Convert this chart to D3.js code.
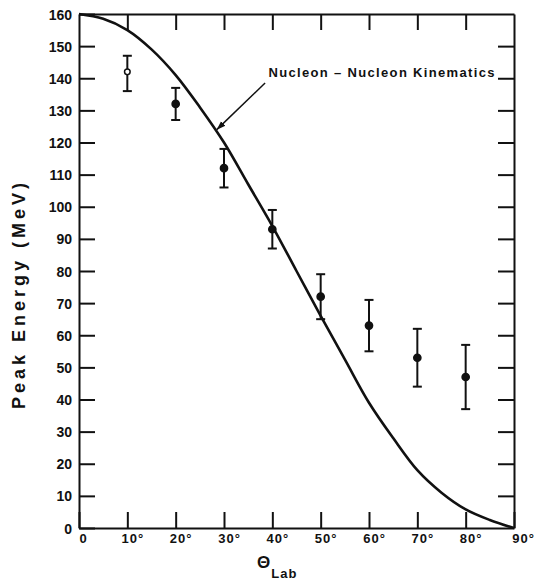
<!DOCTYPE html>
<html>
<head>
<meta charset="utf-8">
<script src="https://cdn.jsdelivr.net/npm/d3@7"></script>
<style>
  body { margin: 0; background: #fff; }
  svg { display: block; }
  .tick text, .lbl { font-family: "Liberation Sans", Arial, sans-serif; font-weight: bold; fill: #111; }
</style>
</head>
<body>
<div id="chart"></div>
<script>
// peak energy vs lab angle, with the nucleon-nucleon kinematics curve

var svgWidth = 534;
var svgHeight = 581;

var margin = { top: 14, right: 20, bottom: 53, left: 79 };
var width = svgWidth - margin.left - margin.right;
var height = svgHeight - margin.top - margin.bottom;

// measured points (deg, MeV) and error limits
var angles = [10, 20, 30, 40, 50, 60, 70, 80];
var energies = [142, 132, 112, 93, 72, 63, 53, 47];
var errLow = [136, 127, 106, 87, 65, 55, 44, 37];
var errHigh = [147, 137, 118, 99, 79, 71, 62, 57];

// kinematics curve read every 5 degrees
var curveAngles = [0, 5, 10, 15, 20, 25, 30, 35, 40, 45, 50, 55, 60, 65, 70, 75, 80, 85, 90];
var curveEnergies = [160, 158.5, 155, 149, 141, 131, 120, 107, 94, 80, 66, 52.5, 39, 28, 18, 11, 5.8, 2.5, 0];

var xTicks = [0, 10, 20, 30, 40, 50, 60, 70, 80, 90];
var yTicks = d3.range(0, 161, 10);

var svg = d3.select("#chart")
    .append("svg")
    .attr("width", svgWidth)
    .attr("height", svgHeight);

var chartGroup = svg.append("g")
    .attr("transform", `translate(${margin.left}, ${margin.top})`);

var x = d3.scaleLinear().domain([0, 90]).range([0, width]);
var y = d3.scaleLinear().domain([0, 160]).range([height, 0]);

// left axis, ticks pointing inward
var leftAxis = d3.axisLeft(y)
    .tickValues(yTicks)
    .tickSizeInner(-16)
    .tickSizeOuter(0)
    .tickPadding(7)
    .tickFormat(d3.format("d"));

var yAxis = chartGroup.append("g").call(leftAxis);
yAxis.selectAll("text").attr("font-size", 14).attr("dy", "0.36em");

// bottom axis, ticks pointing inward
var bottomAxis = d3.axisBottom(x)
    .tickValues(xTicks)
    .tickSizeInner(-16)
    .tickSizeOuter(0)
    .tickPadding(6)
    .tickFormat(d => d === 0 ? "0" : d + "°");

var xAxis = chartGroup.append("g")
    .attr("transform", `translate(0, ${height})`)
    .call(bottomAxis);
xAxis.selectAll("text")
    .attr("font-size", 13)
    .attr("letter-spacing", 1)
    .attr("dx", d => d === 0 ? 4 : (d === 90 ? 9 : 5));

// top and right frame with inward ticks
chartGroup.append("g")
    .call(d3.axisTop(x).tickValues(xTicks.slice(1, -1)).tickSizeInner(-16).tickSizeOuter(0).tickFormat(""));

chartGroup.append("g")
    .attr("transform", `translate(${width}, 0)`)
    .call(d3.axisRight(y).tickValues(yTicks.slice(1, -1)).tickSizeInner(-16).tickSizeOuter(0).tickFormat(""));

chartGroup.selectAll(".domain").attr("stroke", "#111").attr("stroke-width", 2);
chartGroup.selectAll(".tick line").attr("stroke", "#111").attr("stroke-width", 2);
chartGroup.selectAll(".tick text").attr("fill", "#111").attr("font-weight", "bold")
    .attr("font-family", "'Liberation Sans', Arial, sans-serif");

// kinematics curve
var line = d3.line()
    .x(d => x(d[0]))
    .y(d => y(d[1]))
    .curve(d3.curveCatmullRom.alpha(0.5));

chartGroup.append("path")
    .datum(d3.zip(curveAngles, curveEnergies))
    .attr("d", line)
    .attr("fill", "none")
    .attr("stroke", "#111")
    .attr("stroke-width", 2.6);

// error bars
var points = angles.map((a, i) => ({ a: a, e: energies[i], lo: errLow[i], hi: errHigh[i] }));

var bars = chartGroup.selectAll(".err")
    .data(points)
    .enter()
    .append("g")
    .classed("err", true)
    .attr("stroke", "#111")
    .attr("stroke-width", 2);

bars.append("line")
    .attr("x1", d => x(d.a)).attr("x2", d => x(d.a))
    .attr("y1", d => y(d.hi)).attr("y2", d => y(d.lo));
bars.append("line")
    .attr("x1", d => x(d.a) - 4.5).attr("x2", d => x(d.a) + 4.5)
    .attr("y1", d => y(d.hi)).attr("y2", d => y(d.hi));
bars.append("line")
    .attr("x1", d => x(d.a) - 4.5).attr("x2", d => x(d.a) + 4.5)
    .attr("y1", d => y(d.lo)).attr("y2", d => y(d.lo));

chartGroup.selectAll(".pt")
    .data(points)
    .enter()
    .append("circle")
    .classed("pt", true)
    .attr("cx", d => x(d.a))
    .attr("cy", d => y(d.e))
    .attr("r", d => d.a === 10 ? 2.8 : 3.6)
    .attr("fill", d => d.a === 10 ? "#fff" : "#111")
    .attr("stroke", "#111")
    .attr("stroke-width", 1.5);

// annotation with arrow
svg.append("defs").append("marker")
    .attr("id", "arrow")
    .attr("viewBox", "0 0 10 10")
    .attr("refX", 10).attr("refY", 5)
    .attr("markerWidth", 9).attr("markerHeight", 9)
    .attr("markerUnits", "userSpaceOnUse")
    .attr("orient", "auto")
    .append("path")
    .attr("d", "M0,1.5 L10,5 L0,8.5 Z")
    .attr("fill", "#111");

chartGroup.append("line")
    .attr("x1", x(38.5)).attr("y1", y(138.5))
    .attr("x2", x(28.5)).attr("y2", y(124))
    .attr("stroke", "#111")
    .attr("stroke-width", 1.5)
    .attr("marker-end", "url(#arrow)");

chartGroup.append("text")
    .classed("lbl", true)
    .attr("x", x(39.2))
    .attr("y", y(140) - 1.5)
    .attr("font-size", 13)
    .attr("textLength", 226)
    .text("Nucleon – Nucleon Kinematics");

// axis titles
svg.append("text")
    .classed("lbl", true)
    .attr("transform", "translate(25, 296) rotate(-90)")
    .attr("text-anchor", "middle")
    .attr("font-size", 18)
    .attr("textLength", 226)
    .attr("lengthAdjust", "spacing")
    .text("Peak Energy (MeV)");

var xTitle = svg.append("text")
    .classed("lbl", true)
    .attr("x", 257)
    .attr("y", 568)
    .attr("font-size", 17)
    .text("Θ");
xTitle.append("tspan")
    .attr("dx", 1)
    .attr("dy", 10)
    .attr("font-size", 13)
    .attr("letter-spacing", 1)
    .text("Lab");
</script>
</body>
</html>
